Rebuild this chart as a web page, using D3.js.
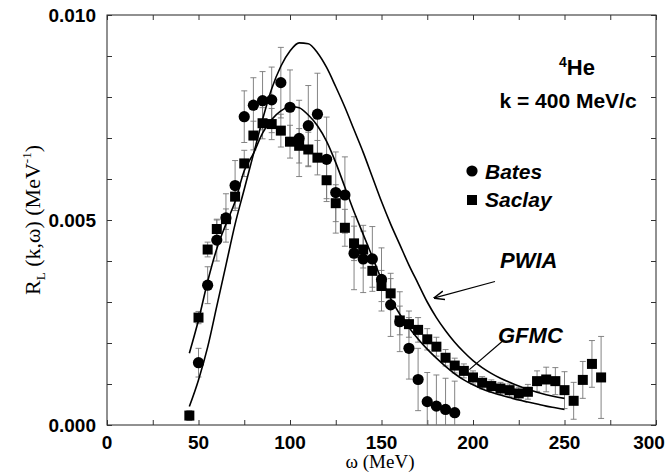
<!DOCTYPE html>
<html>
<head>
<meta charset="utf-8">
<script src="https://cdn.jsdelivr.net/npm/d3@7"></script>
<style>
  body { margin: 0; background: #fff; }
  svg { display: block; }
</style>
</head>
<body>
<div id="chart"></div>
<script>
// data (R_L in units of 1e-3 MeV^-1)
const omegaBates = [50, 55, 60, 65, 70, 75, 80, 85, 90, 95, 100, 105, 110, 115, 120,
    125, 130, 135, 140, 145, 150, 155, 160, 165, 170, 175, 180, 185, 190];
const bates = [1.52, 3.41, 4.51, 5.05, 5.84, 7.52, 7.80, 7.91, 7.93, 8.35, 7.75, 6.99, 7.30, 7.58, 6.48,
    5.67, 5.61, 4.19, 4.05, 4.05, 3.55, 2.93, 2.52, 1.87, 1.11, 0.57, 0.46, 0.38, 0.30];
const batesErr = [0.35, 0.45, 0.51, 0.59, 0.61, 0.63, 0.67, 0.71, 0.80, 0.86, 0.91, 0.93, 0.98, 1.00, 1.03,
    0.99, 0.93, 0.89, 0.82, 0.79, 0.77, 0.77, 0.73, 0.75, 0.76, 0.71, 0.76, 0.76, 0.77];

const omegaSaclay = [45, 50, 55, 60, 65, 70, 75, 80, 85, 90, 95, 100, 105, 110, 115, 120, 125, 130, 135, 140,
    145, 150, 155, 160, 165, 170, 175, 180, 185, 190, 195, 200, 205, 210, 215, 220, 225, 230, 235, 240,
    245, 250, 255, 260, 265, 270];
const saclay = [0.23, 2.62, 4.28, 4.78, 5.02, 5.57, 6.38, 7.06, 7.36, 7.34, 7.18, 6.91, 6.81, 6.72, 6.52,
    5.97, 5.41, 4.81, 4.43, 4.28, 3.76, 3.39, 3.21, 2.55, 2.46, 2.32, 2.09, 1.91, 1.64, 1.45,
    1.32, 1.16, 1.03, 0.95, 0.89, 0.85, 0.77, 0.81, 1.07, 1.11, 1.07, 0.85, 0.59, 1.10, 1.49, 1.16];
const saclayErr = [0.12, 0.15, 0.18, 0.22, 0.25, 0.28, 0.32, 0.35, 0.38, 0.38, 0.40, 0.40, 0.42, 0.42, 0.42,
    0.45, 0.45, 0.45, 0.42, 0.45, 0.40, 0.38, 0.36, 0.35, 0.32, 0.30, 0.26, 0.23, 0.20, 0.18,
    0.17, 0.16, 0.15, 0.15, 0.15, 0.15, 0.15, 0.18, 0.25, 0.30, 0.33, 0.45, 0.45, 0.45, 0.57, 1.00];

const omegaTheory = [45, 50, 55, 60, 65, 70, 75, 80, 85, 90, 95, 100, 105, 110, 115, 120, 125, 130, 135, 140,
    145, 150, 155, 160, 165, 170, 175, 180, 185, 190, 195, 200, 205, 210, 215, 220, 225, 230, 235, 240, 245, 250];
const pwia = [0.45, 1.10, 1.90, 2.90, 3.90, 4.90, 5.75, 6.60, 7.45, 8.20, 8.75, 9.12, 9.32, 9.30, 9.08,
    8.72, 8.25, 7.75, 7.20, 6.65, 6.05, 5.45, 4.90, 4.40, 3.90, 3.45, 3.00, 2.62, 2.30, 2.02,
    1.78, 1.57, 1.40, 1.26, 1.14, 1.04, 0.95, 0.87, 0.80, 0.74, 0.69, 0.65];
const gfmc = [1.75, 2.56, 3.50, 4.30, 4.90, 5.45, 6.20, 6.62, 7.12, 7.45, 7.66, 7.77, 7.74, 7.56, 7.30,
    6.92, 6.40, 5.80, 5.20, 4.65, 4.10, 3.55, 3.08, 2.70, 2.38, 2.10, 1.85, 1.63, 1.43, 1.25,
    1.10, 0.98, 0.88, 0.80, 0.73, 0.67, 0.61, 0.56, 0.51, 0.46, 0.42, 0.38];

const xTicks = [0, 50, 100, 150, 200, 250, 300];
const yTicks = [0, 5, 10];
const yTickLabels = ["0.000", "0.005", "0.010"];

const width = 667, height = 473;
const plot = { left: 107, right: 656, top: 15, bottom: 425 };

const svg = d3.select("#chart").append("svg")
    .attr("width", width)
    .attr("height", height);

const x = d3.scaleLinear().domain([0, 300]).range([plot.left, plot.right]);
const y = d3.scaleLinear().domain([0, 10]).range([plot.bottom, plot.top]);

svg.append("clipPath").attr("id", "clip")
    .append("rect")
    .attr("x", plot.left).attr("y", plot.top)
    .attr("width", plot.right - plot.left).attr("height", plot.bottom - plot.top);

// frame
svg.append("rect")
    .attr("x", plot.left).attr("y", plot.top)
    .attr("width", plot.right - plot.left).attr("height", plot.bottom - plot.top)
    .attr("fill", "none").attr("stroke", "#222").attr("stroke-width", 1);

// ticks, pointing inward on all four sides
const tickStyle = g => g.call(g => g.select(".domain").remove())
    .call(g => g.selectAll("line").attr("stroke", "#333"));

svg.append("g").attr("transform", `translate(0,${plot.bottom})`)
    .call(d3.axisBottom(x).tickValues(d3.range(0, 301, 25)).tickSize(-5).tickFormat(""))
    .call(tickStyle);
svg.append("g").attr("transform", `translate(0,${plot.top})`)
    .call(d3.axisTop(x).tickValues(d3.range(0, 301, 25)).tickSize(-5).tickFormat(""))
    .call(tickStyle);
svg.append("g").attr("transform", `translate(${plot.left},0)`)
    .call(d3.axisLeft(y).tickValues(d3.range(0, 10.1, 1)).tickSize(-5).tickFormat(""))
    .call(tickStyle);
svg.append("g").attr("transform", `translate(${plot.right},0)`)
    .call(d3.axisRight(y).tickValues(d3.range(0, 10.1, 1)).tickSize(-5).tickFormat(""))
    .call(tickStyle);

// tick labels
svg.append("g").selectAll("text")
    .data(xTicks)
    .enter().append("text")
    .attr("x", d => Math.min(x(d), width - 18))
    .attr("y", plot.bottom + 24)
    .attr("text-anchor", "middle")
    .attr("font-family", "'Liberation Sans', Arial, sans-serif")
    .attr("font-weight", "bold")
    .attr("font-size", 19)
    .text(d => d);

svg.append("g").selectAll("text")
    .data(yTicks)
    .enter().append("text")
    .attr("x", plot.left - 11)
    .attr("y", d => y(d) + 7)
    .attr("text-anchor", "end")
    .attr("font-family", "'Liberation Sans', Arial, sans-serif")
    .attr("font-weight", "bold")
    .attr("font-size", 19)
    .text((d, i) => yTickLabels[i]);

// axis titles
svg.append("text")
    .attr("x", 380)
    .attr("y", 468)
    .attr("text-anchor", "middle")
    .attr("font-family", "'Liberation Serif', 'Times New Roman', serif")
    .attr("font-size", 19)
    .text("ω (MeV)");

const yTitle = svg.append("text")
    .attr("transform", `translate(40,${(plot.top + plot.bottom) / 2}) rotate(-90)`)
    .attr("text-anchor", "middle")
    .attr("font-family", "'Liberation Serif', 'Times New Roman', serif")
    .attr("font-size", 22);
yTitle.append("tspan").text("R");
yTitle.append("tspan").attr("font-size", 13).attr("dy", 5).text("L");
yTitle.append("tspan").attr("dy", -5).text(" (k,ω) (MeV");
yTitle.append("tspan").attr("font-size", 13).attr("dy", -9).text("-1");
yTitle.append("tspan").attr("dy", 9).text(")");

// error bars
const plotArea = svg.append("g").attr("clip-path", "url(#clip)");

function errorBars(omega, vals, errs) {
    const g = plotArea.append("g")
        .attr("stroke", "#777")
        .attr("stroke-width", 0.9);
    omega.forEach((w, i) => {
        const cx = x(w), lo = y(vals[i] - errs[i]), hi = y(vals[i] + errs[i]);
        g.append("line").attr("x1", cx).attr("x2", cx).attr("y1", lo).attr("y2", hi);
        g.append("line").attr("x1", cx - 3).attr("x2", cx + 3).attr("y1", lo).attr("y2", lo);
        g.append("line").attr("x1", cx - 3).attr("x2", cx + 3).attr("y1", hi).attr("y2", hi);
    });
}
errorBars(omegaBates, bates, batesErr);
errorBars(omegaSaclay, saclay, saclayErr);

// theory curves
const line = d3.line()
    .x(d => x(d[0]))
    .y(d => y(d[1]))
    .curve(d3.curveMonotoneX);

[pwia, gfmc].forEach(series => {
    plotArea.append("path")
        .datum(omegaTheory.map((w, i) => [w, series[i]]))
        .attr("d", line)
        .attr("fill", "none")
        .attr("stroke", "#000")
        .attr("stroke-width", 1.6);
});

// markers
plotArea.append("g").selectAll("rect")
    .data(omegaSaclay)
    .enter().append("rect")
    .attr("x", d => x(d) - 5)
    .attr("y", (d, i) => y(saclay[i]) - 5)
    .attr("width", 10)
    .attr("height", 10)
    .attr("fill", "#000");

plotArea.append("g").selectAll("circle")
    .data(omegaBates)
    .enter().append("circle")
    .attr("cx", d => x(d))
    .attr("cy", (d, i) => y(bates[i]))
    .attr("r", 5.6)
    .attr("fill", "#000");

// labels in the plot
const sans = "'Liberation Sans', Arial, sans-serif";

const he = svg.append("text")
    .attr("x", 577).attr("y", 75)
    .attr("text-anchor", "middle")
    .attr("font-family", sans).attr("font-weight", "bold").attr("font-size", 22);
he.append("tspan").attr("font-size", 14).attr("dy", -8).text("4");
he.append("tspan").attr("dy", 8).text("He");

svg.append("text")
    .attr("x", 568).attr("y", 108)
    .attr("text-anchor", "middle")
    .attr("font-family", sans).attr("font-weight", "bold").attr("font-size", 21)
    .text("k = 400 MeV/c");

// legend
svg.append("circle").attr("cx", 472).attr("cy", 171).attr("r", 5.6).attr("fill", "#000");
svg.append("rect").attr("x", 467).attr("y", 195).attr("width", 10).attr("height", 10).attr("fill", "#000");
svg.append("text")
    .attr("x", 485).attr("y", 179)
    .attr("font-family", sans).attr("font-weight", "bold").attr("font-style", "italic").attr("font-size", 21)
    .text("Bates");
svg.append("text")
    .attr("x", 485).attr("y", 207)
    .attr("font-family", sans).attr("font-weight", "bold").attr("font-style", "italic").attr("font-size", 21)
    .text("Saclay");

// curve annotations
svg.append("defs").append("marker")
    .attr("id", "arrow")
    .attr("viewBox", "0 0 10 10")
    .attr("refX", 9).attr("refY", 5)
    .attr("markerWidth", 9).attr("markerHeight", 9)
    .attr("orient", "auto")
    .append("path")
    .attr("d", "M0,1 L10,5 L0,9")
    .attr("fill", "none")
    .attr("stroke", "#000")
    .attr("stroke-width", 1.3);

svg.append("text")
    .attr("x", 500).attr("y", 268)
    .attr("font-family", sans).attr("font-weight", "bold").attr("font-style", "italic").attr("font-size", 22)
    .text("PWIA");
svg.append("line")
    .attr("x1", x(212)).attr("y1", y(3.5))
    .attr("x2", x(179)).attr("y2", y(3.1))
    .attr("stroke", "#000").attr("stroke-width", 1.2)
    .attr("marker-end", "url(#arrow)");

svg.append("text")
    .attr("x", 498).attr("y", 343)
    .attr("font-family", sans).attr("font-weight", "bold").attr("font-style", "italic").attr("font-size", 22)
    .text("GFMC");
svg.append("line")
    .attr("x1", x(217)).attr("y1", y(2.08))
    .attr("x2", x(198)).attr("y2", y(1.35))
    .attr("stroke", "#000").attr("stroke-width", 1.2);
</script>
</body>
</html>
